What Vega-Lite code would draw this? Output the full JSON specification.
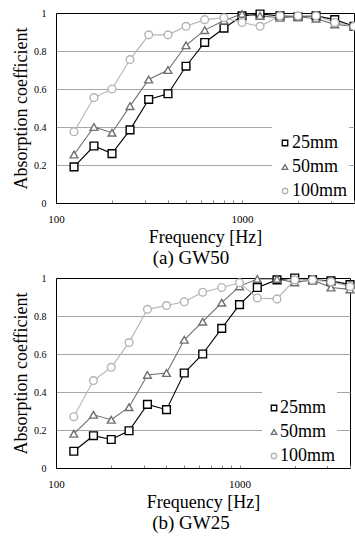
{
  "$schema": "https://vega.github.io/schema/vega-lite/v6.json",
  "autosize": {"type": "pad"},
  "padding": {"left": 12, "top": 7, "right": 0, "bottom": 0},
  "background": "white",
  "spacing": 3,
  "config": {
    "font": "Liberation Serif",
    "view": {"stroke": null},
    "axis": {
      "labelFont": "Liberation Serif",
      "titleFont": "Liberation Serif",
      "labelColor": "#000",
      "titleColor": "#000",
      "titleFontWeight": "normal",
      "domainColor": "#000",
      "domainWidth": 1
    },
    "title": {"font": "Liberation Serif", "fontWeight": "normal", "color": "#000"}
  },
  "resolve": {"scale": {"color": "independent", "shape": "independent"}},
  "vconcat": [
    {
      "width": 298,
      "height": 190,
      "title": {"text": "(a) GW50", "orient": "bottom", "fontSize": 19, "dx": -14, "offset": 3},
      "data": {"values": [
        {"f": 125, "s": "25mm", "v": 0.19}, {"f": 160, "s": "25mm", "v": 0.30}, {"f": 200, "s": "25mm", "v": 0.26}, {"f": 250, "s": "25mm", "v": 0.385},
        {"f": 315, "s": "25mm", "v": 0.545}, {"f": 400, "s": "25mm", "v": 0.575}, {"f": 500, "s": "25mm", "v": 0.72}, {"f": 630, "s": "25mm", "v": 0.845},
        {"f": 800, "s": "25mm", "v": 0.92}, {"f": 1000, "s": "25mm", "v": 0.985}, {"f": 1250, "s": "25mm", "v": 0.995}, {"f": 1600, "s": "25mm", "v": 0.985},
        {"f": 2000, "s": "25mm", "v": 0.98}, {"f": 2500, "s": "25mm", "v": 0.985}, {"f": 3150, "s": "25mm", "v": 0.965}, {"f": 4000, "s": "25mm", "v": 0.93},
        {"f": 125, "s": "50mm", "v": 0.255}, {"f": 160, "s": "50mm", "v": 0.40}, {"f": 200, "s": "50mm", "v": 0.37}, {"f": 250, "s": "50mm", "v": 0.51},
        {"f": 315, "s": "50mm", "v": 0.65}, {"f": 400, "s": "50mm", "v": 0.70}, {"f": 500, "s": "50mm", "v": 0.83}, {"f": 630, "s": "50mm", "v": 0.91},
        {"f": 800, "s": "50mm", "v": 0.96}, {"f": 1000, "s": "50mm", "v": 0.995}, {"f": 1250, "s": "50mm", "v": 0.985}, {"f": 1600, "s": "50mm", "v": 0.975},
        {"f": 2000, "s": "50mm", "v": 0.98}, {"f": 2500, "s": "50mm", "v": 0.97}, {"f": 3150, "s": "50mm", "v": 0.94}, {"f": 4000, "s": "50mm", "v": 0.93},
        {"f": 125, "s": "100mm", "v": 0.375}, {"f": 160, "s": "100mm", "v": 0.555}, {"f": 200, "s": "100mm", "v": 0.60}, {"f": 250, "s": "100mm", "v": 0.755},
        {"f": 315, "s": "100mm", "v": 0.885}, {"f": 400, "s": "100mm", "v": 0.885}, {"f": 500, "s": "100mm", "v": 0.93}, {"f": 630, "s": "100mm", "v": 0.965},
        {"f": 800, "s": "100mm", "v": 0.975}, {"f": 1000, "s": "100mm", "v": 0.95}, {"f": 1250, "s": "100mm", "v": 0.93}, {"f": 1600, "s": "100mm", "v": 0.985},
        {"f": 2000, "s": "100mm", "v": 0.985}, {"f": 2500, "s": "100mm", "v": 0.985}, {"f": 3150, "s": "100mm", "v": 0.95}, {"f": 4000, "s": "100mm", "v": 0.93}
      ]},
      "encoding": {
        "x": {"field": "f", "type": "quantitative",
          "scale": {"type": "log", "domain": [100, 4000], "nice": false},
          "axis": {"title": "Frequency [Hz]", "titleFontSize": 18, "titlePadding": 4,
            "values": [100, 200, 300, 400, 500, 600, 700, 800, 900, 1000, 2000, 3000, 4000],
            "labelExpr": "datum.value == 100 ? '100' : datum.value == 1000 ? '1000' : ''",
            "labelFontSize": 11, "labelPadding": 13, "labelFlush": false, "labelOverlap": false,
            "tickSize": -3, "tickColor": "#888",
            "grid": true, "gridColor": "#000",
            "gridOpacity": {"condition": {"test": "datum.value === 4000", "value": 1}, "value": 0}}},
        "y": {"field": "v", "type": "quantitative",
          "scale": {"domain": [0, 1], "nice": false},
          "axis": {"title": "Absorption coefficient", "titleFontSize": 18, "titlePadding": 3,
            "values": [0, 0.2, 0.4, 0.6, 0.8, 1], "format": "~g",
            "labelFontSize": 10, "labelPadding": 10, "ticks": false, "minExtent": 23, "maxExtent": 23,
            "grid": true,
            "gridColor": {"condition": {"test": "datum.value === 1", "value": "#000"}, "value": "#a6a6a6"}}},
        "color": {"field": "s", "type": "nominal", "sort": ["25mm", "50mm", "100mm"],
          "scale": {"domain": ["25mm", "50mm", "100mm"], "range": ["#000000", "#707070", "#b4b4b4"]},
          "legend": {"orient": "none", "legendX": 216, "legendY": 112, "title": " ", "titleFontSize": 8, "titlePadding": 0,
            "padding": 1, "fillColor": "white", "labelFontSize": 18, "labelFont": "Liberation Serif", "labelColor": "#000",
            "symbolSize": 30, "symbolStrokeWidth": 1.3, "rowPadding": 6, "labelOffset": -2, "symbolOffset": 3}}
      },
      "layer": [
        {"mark": {"type": "line", "strokeWidth": 1.1}},
        {"mark": {"type": "point", "filled": false, "fill": "white", "opacity": 1, "size": 60, "strokeWidth": 1.4},
         "encoding": {
           "shape": {"field": "s", "type": "nominal", "sort": ["25mm", "50mm", "100mm"],
             "scale": {"domain": ["25mm", "50mm", "100mm"], "range": ["square", "triangle-up", "circle"]},
             "legend": {"orient": "none", "legendX": 216, "legendY": 112, "title": " ", "titleFontSize": 8, "titlePadding": 0,
               "padding": 1, "fillColor": "white", "labelFontSize": 18, "labelFont": "Liberation Serif", "labelColor": "#000",
               "symbolSize": 30, "symbolStrokeWidth": 1.3, "rowPadding": 6, "labelOffset": -2, "symbolOffset": 3}}
         }}
      ]
    },
    {
      "width": 294,
      "height": 190,
      "title": {"text": "(b) GW25", "orient": "bottom", "fontSize": 19, "dx": -12, "offset": 3},
      "data": {"values": [
        {"f": 125, "s": "25mm", "v": 0.088}, {"f": 160, "s": "25mm", "v": 0.17}, {"f": 200, "s": "25mm", "v": 0.15}, {"f": 250, "s": "25mm", "v": 0.196},
        {"f": 315, "s": "25mm", "v": 0.335}, {"f": 400, "s": "25mm", "v": 0.307}, {"f": 500, "s": "25mm", "v": 0.50}, {"f": 630, "s": "25mm", "v": 0.60},
        {"f": 800, "s": "25mm", "v": 0.735}, {"f": 1000, "s": "25mm", "v": 0.86}, {"f": 1250, "s": "25mm", "v": 0.95}, {"f": 1600, "s": "25mm", "v": 0.99},
        {"f": 2000, "s": "25mm", "v": 1.0}, {"f": 2500, "s": "25mm", "v": 0.99}, {"f": 3150, "s": "25mm", "v": 0.985}, {"f": 4000, "s": "25mm", "v": 0.965},
        {"f": 125, "s": "50mm", "v": 0.18}, {"f": 160, "s": "50mm", "v": 0.28}, {"f": 200, "s": "50mm", "v": 0.254}, {"f": 250, "s": "50mm", "v": 0.32},
        {"f": 315, "s": "50mm", "v": 0.49}, {"f": 400, "s": "50mm", "v": 0.50}, {"f": 500, "s": "50mm", "v": 0.675}, {"f": 630, "s": "50mm", "v": 0.77},
        {"f": 800, "s": "50mm", "v": 0.87}, {"f": 1000, "s": "50mm", "v": 0.956}, {"f": 1250, "s": "50mm", "v": 0.995}, {"f": 1600, "s": "50mm", "v": 0.995},
        {"f": 2000, "s": "50mm", "v": 0.977}, {"f": 2500, "s": "50mm", "v": 0.99}, {"f": 3150, "s": "50mm", "v": 0.95}, {"f": 4000, "s": "50mm", "v": 0.94},
        {"f": 125, "s": "100mm", "v": 0.27}, {"f": 160, "s": "100mm", "v": 0.46}, {"f": 200, "s": "100mm", "v": 0.53}, {"f": 250, "s": "100mm", "v": 0.66},
        {"f": 315, "s": "100mm", "v": 0.835}, {"f": 400, "s": "100mm", "v": 0.855}, {"f": 500, "s": "100mm", "v": 0.875}, {"f": 630, "s": "100mm", "v": 0.925},
        {"f": 800, "s": "100mm", "v": 0.95}, {"f": 1000, "s": "100mm", "v": 0.975}, {"f": 1250, "s": "100mm", "v": 0.895}, {"f": 1600, "s": "100mm", "v": 0.89},
        {"f": 2000, "s": "100mm", "v": 0.99}, {"f": 2500, "s": "100mm", "v": 0.99}, {"f": 3150, "s": "100mm", "v": 0.98}, {"f": 4000, "s": "100mm", "v": 0.955}
      ]},
      "encoding": {
        "x": {"field": "f", "type": "quantitative",
          "scale": {"type": "log", "domain": [100, 4000], "nice": false},
          "axis": {"title": "Frequency [Hz]", "titleFontSize": 18, "titlePadding": 4,
            "values": [100, 200, 300, 400, 500, 600, 700, 800, 900, 1000, 2000, 3000, 4000],
            "labelExpr": "datum.value == 100 ? '100' : datum.value == 1000 ? '1000' : ''",
            "labelFontSize": 11, "labelPadding": 13, "labelFlush": false, "labelOverlap": false,
            "tickSize": -3, "tickColor": "#888",
            "grid": true, "gridColor": "#000",
            "gridOpacity": {"condition": {"test": "datum.value === 4000", "value": 1}, "value": 0}}},
        "y": {"field": "v", "type": "quantitative",
          "scale": {"domain": [0, 1], "nice": false},
          "axis": {"title": "Absorption coefficient", "titleFontSize": 18, "titlePadding": 3,
            "values": [0, 0.2, 0.4, 0.6, 0.8, 1], "format": "~g",
            "labelFontSize": 10, "labelPadding": 10, "ticks": false, "minExtent": 23, "maxExtent": 23,
            "grid": true,
            "gridColor": {"condition": {"test": "datum.value === 1", "value": "#000"}, "value": "#a6a6a6"}}},
        "color": {"field": "s", "type": "nominal", "sort": ["25mm", "50mm", "100mm"],
          "scale": {"domain": ["25mm", "50mm", "100mm"], "range": ["#000000", "#707070", "#b4b4b4"]},
          "legend": {"orient": "none", "legendX": 206, "legendY": 112, "title": " ", "titleFontSize": 8, "titlePadding": 0,
            "padding": 1, "fillColor": "white", "labelFontSize": 18, "labelFont": "Liberation Serif", "labelColor": "#000",
            "symbolSize": 30, "symbolStrokeWidth": 1.3, "rowPadding": 6, "labelOffset": -3, "symbolOffset": 2}}
      },
      "layer": [
        {"mark": {"type": "line", "strokeWidth": 1.1}},
        {"mark": {"type": "point", "filled": false, "fill": "white", "opacity": 1, "size": 60, "strokeWidth": 1.4},
         "encoding": {
           "shape": {"field": "s", "type": "nominal", "sort": ["25mm", "50mm", "100mm"],
             "scale": {"domain": ["25mm", "50mm", "100mm"], "range": ["square", "triangle-up", "circle"]},
             "legend": {"orient": "none", "legendX": 206, "legendY": 112, "title": " ", "titleFontSize": 8, "titlePadding": 0,
               "padding": 1, "fillColor": "white", "labelFontSize": 18, "labelFont": "Liberation Serif", "labelColor": "#000",
               "symbolSize": 30, "symbolStrokeWidth": 1.3, "rowPadding": 6, "labelOffset": -3, "symbolOffset": 2}}
         }}
      ]
    }
  ]
}
